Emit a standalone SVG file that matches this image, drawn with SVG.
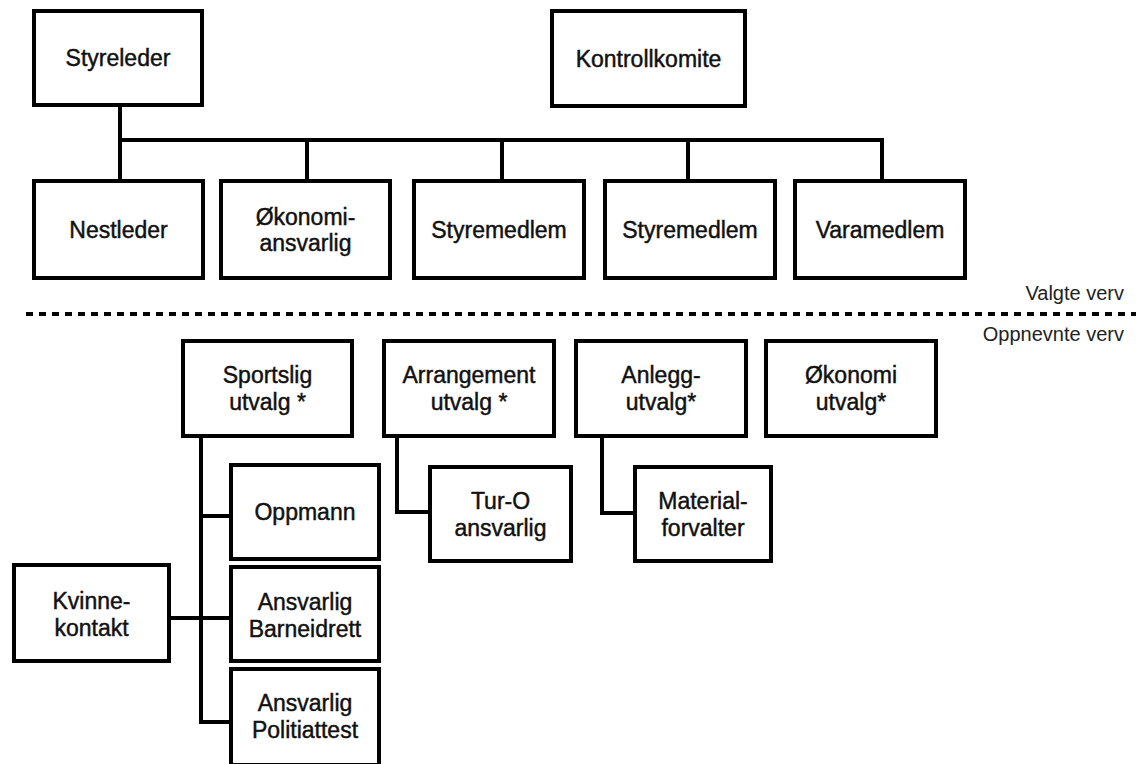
<svg xmlns="http://www.w3.org/2000/svg" width="1136" height="764" viewBox="0 0 1136 764">
<style>
.box{fill:#fff;stroke:#000;stroke-width:4}
.lbl{font-family:"Liberation Sans",Arial,Helvetica,sans-serif;font-size:23px;fill:#111;stroke:#111;stroke-width:0.45;text-anchor:middle}
.side{font-family:"Liberation Sans",Arial,Helvetica,sans-serif;font-size:20px;fill:#222;text-anchor:end}
.con{fill:none;stroke:#000;stroke-width:4;stroke-linejoin:miter;stroke-linecap:square}
</style>
<rect width="1136" height="764" fill="#fff"/>
<g id="connectors">
<path class="con" d="M120 107V179M120 140H882M307 140V179M502 140V179M688 140V179M882 140V179"/>
<path class="con" d="M201 438V722H229M201 516H229M171 618H229"/>
<path class="con" d="M397 438V512H428"/>
<path class="con" d="M602 438V513H634"/>
</g>
<line x1="26" y1="314" x2="1136" y2="314" stroke="#000" stroke-width="4" stroke-dasharray="7 6"/>
<text class="side" x="1124" y="300">Valgte verv</text>
<text class="side" x="1124" y="341">Oppnevnte verv</text>
<g id="styreleder"><rect class="box" x="34" y="11" width="168" height="94"/><text class="lbl" x="118" y="66">Styreleder</text></g>
<g id="kontrollkomite"><rect class="box" x="552" y="11" width="193" height="95"/><text class="lbl" x="648.5" y="67">Kontrollkomite</text></g>
<g id="nestleder"><rect class="box" x="34" y="181" width="169" height="97"/><text class="lbl" x="118.5" y="238">Nestleder</text></g>
<g id="okonomiansvarlig"><rect class="box" x="221" y="181" width="169" height="97"/><text class="lbl" x="305.5" y="225">Økonomi-</text><text class="lbl" x="305.5" y="251">ansvarlig</text></g>
<g id="styremedlem1"><rect class="box" x="414" y="181" width="170" height="97"/><text class="lbl" x="499" y="238">Styremedlem</text></g>
<g id="styremedlem2"><rect class="box" x="605" y="181" width="170" height="97"/><text class="lbl" x="690" y="238">Styremedlem</text></g>
<g id="varamedlem"><rect class="box" x="795" y="181" width="170" height="97"/><text class="lbl" x="880" y="238">Varamedlem</text></g>
<g id="sportslig"><rect class="box" x="183" y="341" width="169" height="95"/><text class="lbl" x="267.5" y="383">Sportslig</text><text class="lbl" x="267.5" y="410">utvalg *</text></g>
<g id="arrangement"><rect class="box" x="384" y="341" width="170" height="95"/><text class="lbl" x="469" y="383">Arrangement</text><text class="lbl" x="469" y="410">utvalg *</text></g>
<g id="anlegg"><rect class="box" x="576" y="341" width="170" height="95"/><text class="lbl" x="661" y="383">Anlegg-</text><text class="lbl" x="661" y="410">utvalg*</text></g>
<g id="okonomiutvalg"><rect class="box" x="766" y="341" width="170" height="95"/><text class="lbl" x="851" y="383">Økonomi</text><text class="lbl" x="851" y="410">utvalg*</text></g>
<g id="turo"><rect class="box" x="430" y="467" width="141" height="94"/><text class="lbl" x="500.5" y="509">Tur-O</text><text class="lbl" x="500.5" y="536">ansvarlig</text></g>
<g id="materialforvalter"><rect class="box" x="635" y="467" width="136" height="94"/><text class="lbl" x="703" y="509">Material-</text><text class="lbl" x="703" y="536">forvalter</text></g>
<g id="oppmann"><rect class="box" x="231" y="465" width="148" height="94"/><text class="lbl" x="305" y="520">Oppmann</text></g>
<g id="barneidrett"><rect class="box" x="231" y="567" width="148" height="94"/><text class="lbl" x="305" y="610">Ansvarlig</text><text class="lbl" x="305" y="637">Barneidrett</text></g>
<g id="politiattest"><rect class="box" x="231" y="669" width="148" height="96"/><text class="lbl" x="305" y="711">Ansvarlig</text><text class="lbl" x="305" y="738">Politiattest</text></g>
<g id="kvinnekontakt"><rect class="box" x="14" y="565" width="155" height="96"/><text class="lbl" x="91.5" y="609">Kvinne-</text><text class="lbl" x="91.5" y="636">kontakt</text></g>
</svg>
